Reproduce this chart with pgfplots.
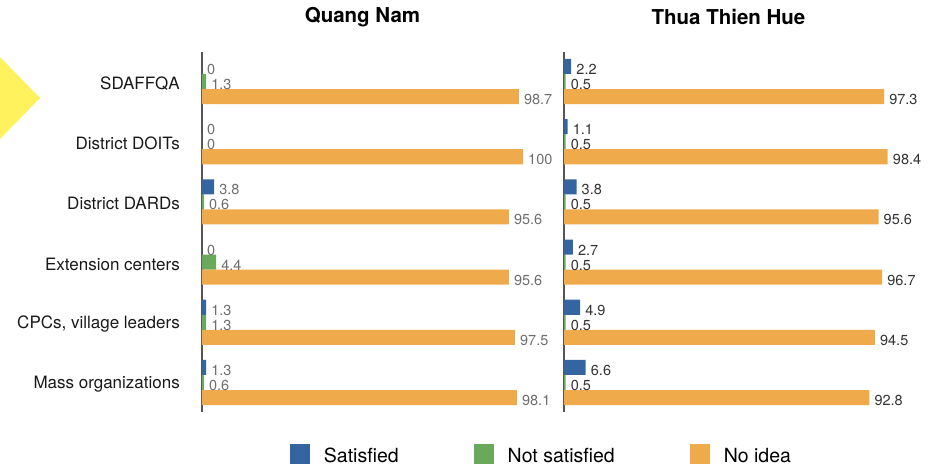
\documentclass[border=0pt]{standalone}
\usepackage{fontspec}
\setmainfont{TeX Gyre Heros}
\usepackage{pgfplots}
\pgfplotsset{compat=1.18}
\definecolor{cBlue}{HTML}{3565A0}
\definecolor{cGreen}{HTML}{6AA85C}
\definecolor{cOrange}{HTML}{EEAA4B}
\definecolor{labL}{HTML}{6E6E6E}
\definecolor{labR}{HTML}{333333}
\definecolor{axline}{HTML}{555555}
\definecolor{tri}{HTML}{FFF25C}
\pgfplotsset{
 panel/.style={
  scale only axis, height=360pt, xmin=0, xmax=100, ymin=-0.49, ymax=5.49, y dir=reverse,
  axis x line=none, axis y line*=left, axis line style={draw=axline, line width=1.5pt},
  ytick={0,...,5}, major tick length=0pt, clip=false,
  title style={at={(0.5,1)}, anchor=center, yshift=29pt, font=\bfseries\fontsize{20.5}{24}\selectfont},
 },
 bars/.style={xbar, bar width=0.25, bar shift=0pt, draw=none, fill=#1, point meta=x,
   nodes near coords={\pgfmathprintnumber[fixed,precision=1,assume math mode=true]{\pgfplotspointmeta}},
   nodes near coords align=horizontal,
   legend image code/.code={\fill[##1] (0pt,-8pt) rectangle (20pt,12pt);}},
}
\begin{document}
\begin{tikzpicture}
\path[use as bounding box] (0pt,-466pt) rectangle (938pt,0pt);
\fill[tri] (0pt,-57pt) -- (40pt,-98pt) -- (0pt,-139pt) -- cycle;
\begin{axis}[panel, at={(202pt,-52pt)}, anchor=north west, width=321pt,
  title={Quang Nam},
  yticklabels={SDAFFQA,District DOITs,District DARDs,Extension centers,{CPCs, village leaders},Mass organizations},
  yticklabel style={anchor=east, inner sep=0pt, xshift=-22pt, yshift=-2pt, font=\fontsize{17}{20}\selectfont, text=black!90},
  every node near coord/.append style={anchor=west, inner sep=0pt, xshift=5pt, yshift=-3pt, font=\fontsize{14.5}{16}\selectfont, text=labL},
  legend columns=3,
  legend style={at={(0.274,-0.117)}, anchor=west, draw=none, fill=none, inner sep=0pt, outer sep=0pt,
    font=\fontsize{19.5}{22}\selectfont, nodes={inner sep=0pt},
    /tikz/every even column/.append style={column sep=75pt},
    /tikz/every odd column/.append style={column sep=14pt}},
]
\addplot[bars=cBlue] coordinates {(0,-0.25) (0,0.75) (3.8,1.75) (0,2.75) (1.3,3.75) (1.3,4.75)};
\addplot[bars=cGreen] coordinates {(1.3,0) (0,1) (0.6,2) (4.4,3) (1.3,4) (0.6,5)};
\addplot[bars=cOrange] coordinates {(98.7,0.25) (100,1.25) (95.6,2.25) (95.6,3.25) (97.5,4.25) (98.1,5.25)};
\legend{Satisfied,Not satisfied,No idea}
\end{axis}
\begin{axis}[panel, at={(564pt,-52pt)}, anchor=north west, width=329pt,
  title={Thua Thien Hue},
  yticklabels={},
  every node near coord/.append style={anchor=west, inner sep=0pt, xshift=5pt, yshift=-3pt, font=\fontsize{14.5}{16}\selectfont, text=labR},
]
\addplot[bars=cBlue] coordinates {(2.2,-0.25) (1.1,0.75) (3.8,1.75) (2.7,2.75) (4.9,3.75) (6.6,4.75)};
\addplot[bars=cGreen] coordinates {(0.5,0) (0.5,1) (0.5,2) (0.5,3) (0.5,4) (0.5,5)};
\addplot[bars=cOrange] coordinates {(97.3,0.25) (98.4,1.25) (95.6,2.25) (96.7,3.25) (94.5,4.25) (92.8,5.25)};
\end{axis}
\end{tikzpicture}
\end{document}
